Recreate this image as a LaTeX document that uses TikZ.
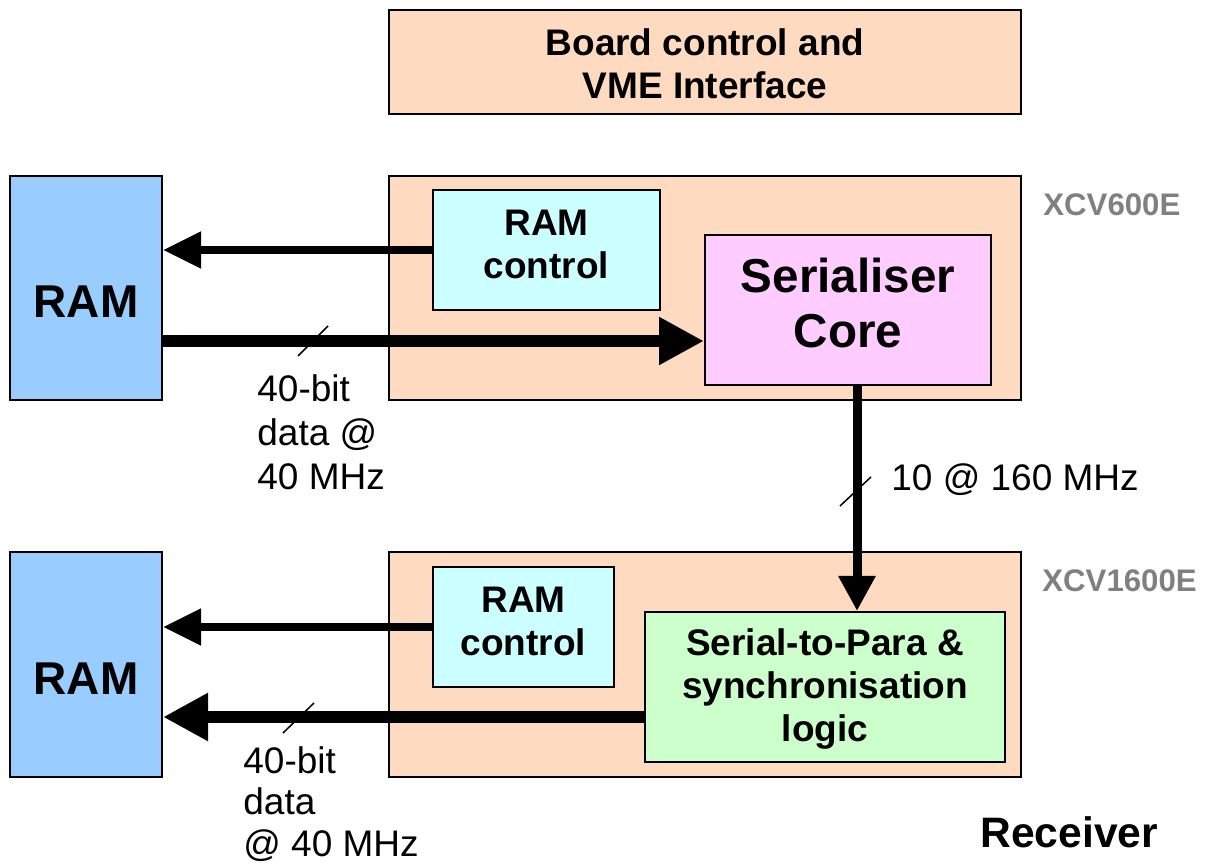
\documentclass[tikz,border=0pt]{standalone}
\usepackage{fontspec}
\setmainfont{Liberation Sans}
\usepackage{tikz}
\usetikzlibrary{positioning, arrows.meta, calc}
\definecolor{peach}{RGB}{253,218,192}
\definecolor{ramblue}{RGB}{153,204,255}
\definecolor{ctlcyan}{RGB}{204,255,255}
\definecolor{corepink}{RGB}{255,204,255}
\definecolor{s2pgreen}{RGB}{204,255,204}
\tikzset{
    block/.style={
        rectangle,
        draw=black,
        line width=1pt,
        inner sep=0pt
    },
    fpga/.style={
        block,
        fill=peach
    },
    blocktxt/.style={
        inner sep=0pt,
        align=center,
        font=\bfseries\fontsize{18.5}{21.5}\selectfont
    },
    chip/.style={
        gray,
        inner sep=0pt,
        font=\bfseries\fontsize{15.6}{19}\selectfont
    },
    lbl/.style={
        inner sep=0pt,
        align=left,
        font=\fontsize{18.5}{22}\selectfont
    },
    bus/.style={
        line width=6pt,
        -{Triangle[length=22.5pt,width=22.5pt]}
    },
    ctlbus/.style={
        line width=4pt,
        -{Triangle[length=19pt,width=17.5pt]}
    },
    serbus/.style={
        line width=4.5pt,
        -{Triangle[length=17.5pt,width=17.5pt]}
    },
    slash/.style={
        line width=0.75pt
    }
}

\begin{document}
\begin{tikzpicture}[x=0.5pt, y=-0.5pt]
\useasboundingbox (0,0) rectangle (1207,866);

%---------------- Board control ----------------

\node[fpga, minimum width=316pt, minimum height=52pt] (board) at (705,62) {};
\node[blocktxt] (boardtxt) at (705,63.5) {Board control and\\VME Interface};

%---------------- Transmitter ----------------

\node[fpga, minimum width=316pt, minimum height=112pt] (fpgaA) at (705,288) {};
\node[chip, anchor=west] (chipA) at (1043,205) {XCV600E};

\node[block, fill=ramblue, minimum width=76pt, minimum height=112pt] (ramA) at (86,288) {};
\node[blocktxt, font=\bfseries\fontsize{23}{27}\selectfont] (ramAtxt) at (86,302) {RAM};

\node[block, fill=ctlcyan, minimum width=113.5pt, minimum height=60pt] (ctlA) at (546.5,250) {};
\node[blocktxt] (ctlAtxt) at (546.5,244) {RAM\\control};

\node[block, fill=corepink, minimum width=143pt, minimum height=75pt] (core) at (848,310) {};
\node[blocktxt, font=\bfseries\fontsize{23.8}{27.5}\selectfont] (coretxt) at (848,302.5)
    {Serialiser\\Core};

\draw[ctlbus] (ctlA.west) -- (ramA.east |- ctlA.west);
\draw[bus] (ramA.east |- 0,341) -- (core.west |- 0,341);
\draw[slash] (298,356) -- (328,326);
\node[lbl, anchor=north west] (dataA) at (257,374) {40-bit\\data @\\40 MHz};

%---------------- Receiver ----------------

\node[fpga, minimum width=316pt, minimum height=112.5pt] (fpgaB) at (705,664.5) {};
\node[chip, anchor=west] (chipB) at (1042,581) {XCV1600E};

\node[block, fill=ramblue, minimum width=76pt, minimum height=112.5pt] (ramB) at (86,664.5) {};
\node[blocktxt, font=\bfseries\fontsize{23}{27}\selectfont] (ramBtxt) at (86,679) {RAM};

\node[block, fill=ctlcyan, minimum width=90.5pt, minimum height=60pt] (ctlB) at (523.5,627) {};
\node[blocktxt] (ctlBtxt) at (523.5,621.5) {RAM\\control};

\node[block, fill=s2pgreen, minimum width=180pt, minimum height=75pt] (s2p) at (825,687) {};
\node[blocktxt] (s2ptxt) at (825,689) {Serial-to-Para \&\\synchronisation\\logic};

\draw[ctlbus] (ctlB.west) -- (ramB.east |- ctlB.west);
\draw[bus] (s2p.west |- 0,717) -- (ramB.east |- 0,717);
\draw[slash] (283,733) -- (314,703);
\node[lbl, anchor=north west, font=\fontsize{18.5}{20.75}\selectfont] (dataB) at (243,746)
    {40-bit\\data\\@ 40 MHz};

\node[blocktxt, font=\bfseries\fontsize{21.3}{25}\selectfont, anchor=west] (rx) at (980,832) {Receiver};

%---------------- Link ----------------

\draw[serbus] (core.south -| 857,0) -- (s2p.north -| 857,0);
\draw[slash] (840,506) -- (871,477);
\node[lbl, anchor=west] (link) at (891,480) {10 @ 160 MHz};

\end{tikzpicture}
\end{document}
